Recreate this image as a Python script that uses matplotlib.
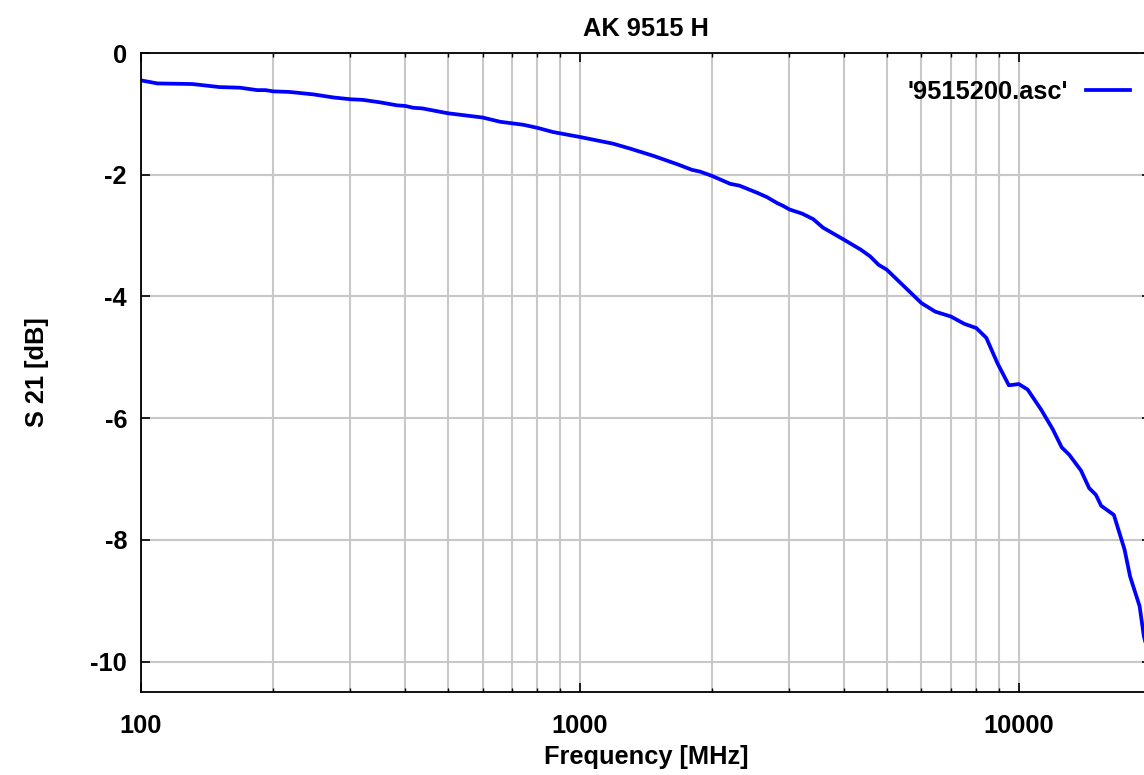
import matplotlib
matplotlib.use("Agg")
import matplotlib.pyplot as plt
from matplotlib.ticker import FixedLocator, NullFormatter

# data (frequency in MHz, S21 in dB)
freq_mhz = [100, 109, 131, 151, 168, 184, 192, 200, 218, 247, 274, 300, 320, 350,
            383, 400, 417, 437, 500, 600, 658, 744, 800, 870, 1000, 1190, 1300,
            1470, 1670, 1800, 1880, 2000, 2200, 2310, 2540, 2670, 2820, 2900, 3000,
            3210, 3400, 3580, 4000, 4360, 4580, 4790, 5000, 6000, 6450, 7000, 7510,
            8000, 8430, 8940, 9490, 10000, 10470, 11240, 11940, 12520, 13020, 13850,
            14460, 14980, 15400, 16460, 17410, 17920, 18840, 19260, 19450]
s21_db = [-0.45, -0.50, -0.51, -0.56, -0.57, -0.61, -0.61, -0.63, -0.64, -0.68, -0.73,
          -0.76, -0.77, -0.81, -0.86, -0.87, -0.90, -0.91, -0.99, -1.06, -1.13, -1.18,
          -1.23, -1.30, -1.38, -1.49, -1.57, -1.69, -1.83, -1.92, -1.95, -2.02, -2.15,
          -2.18, -2.30, -2.37, -2.47, -2.51, -2.57, -2.64, -2.73, -2.87, -3.07, -3.23,
          -3.34, -3.48, -3.56, -4.11, -4.25, -4.33, -4.45, -4.52, -4.68, -5.10, -5.46,
          -5.44, -5.53, -5.86, -6.18, -6.48, -6.60, -6.86, -7.15, -7.26, -7.44, -7.59,
          -8.16, -8.60, -9.09, -9.58, -9.70]
series_name = "'9515200.asc'"
x_major = [100, 1000, 10000]
x_minor = [200, 300, 400, 500, 600, 700, 800, 900,
           2000, 3000, 4000, 5000, 6000, 7000, 8000, 9000]
y_ticks = [0, -2, -4, -6, -8, -10]

plt.rcParams["font.family"] = ["Liberation Sans", "DejaVu Sans"]
plt.rcParams["font.weight"] = "bold"
FS = 18.3

W, H = 1144, 775
fig = plt.figure(figsize=(W / 100, H / 100), dpi=100)
# the right edge of the plot sits just outside the picture, as in the reference
left, right, top, bottom = 141, 1151, 53, 692
ax = fig.add_axes([left / W, 1 - bottom / H, (right - left) / W, (bottom - top) / H])

ax.plot(freq_mhz, s21_db, color="#0000ff", lw=2.7, label=series_name)

ax.set_xscale("log")
ax.set_xlim(100, 20000)
ax.set_ylim(-10.5, 0)

ax.xaxis.set_major_locator(FixedLocator(x_major))
ax.xaxis.set_minor_locator(FixedLocator(x_minor))
ax.xaxis.set_minor_formatter(NullFormatter())
ax.set_xticklabels([str(v) for v in x_major])
ax.set_yticks(y_ticks)
ax.set_yticklabels([str(v) for v in y_ticks])

ax.grid(True, which="both", axis="x", color="#c8c8c8", lw=1.5)
ax.grid(True, which="major", axis="y", color="#c8c8c8", lw=1.5)
ax.set_axisbelow(True)

ax.tick_params(which="major", direction="in", length=6.5, width=1.2,
               top=True, right=True, labelsize=FS)
ax.tick_params(which="minor", direction="in", length=3, width=1.0,
               top=True, right=True)
ax.tick_params(axis="x", which="major", pad=16)
ax.tick_params(axis="y", which="major", pad=10)
for s in ax.spines.values():
    s.set_linewidth(1.3)

ax.set_title("AK 9515 H", fontsize=FS, fontweight="bold", pad=12)
ax.set_xlabel("Frequency [MHz]", fontsize=FS, fontweight="bold", labelpad=5)
ax.set_ylabel("S 21 [dB]", fontsize=FS, fontweight="bold", labelpad=30)

ax.legend(loc="center right", bbox_to_anchor=(1130 / W, 1 - 92 / H),
          bbox_transform=fig.transFigure, frameon=False, markerfirst=False,
          handlelength=1.75, handletextpad=0.7, borderpad=0, borderaxespad=0,
          prop={"size": FS, "weight": "bold"})

fig.savefig("out.png", dpi=100)
